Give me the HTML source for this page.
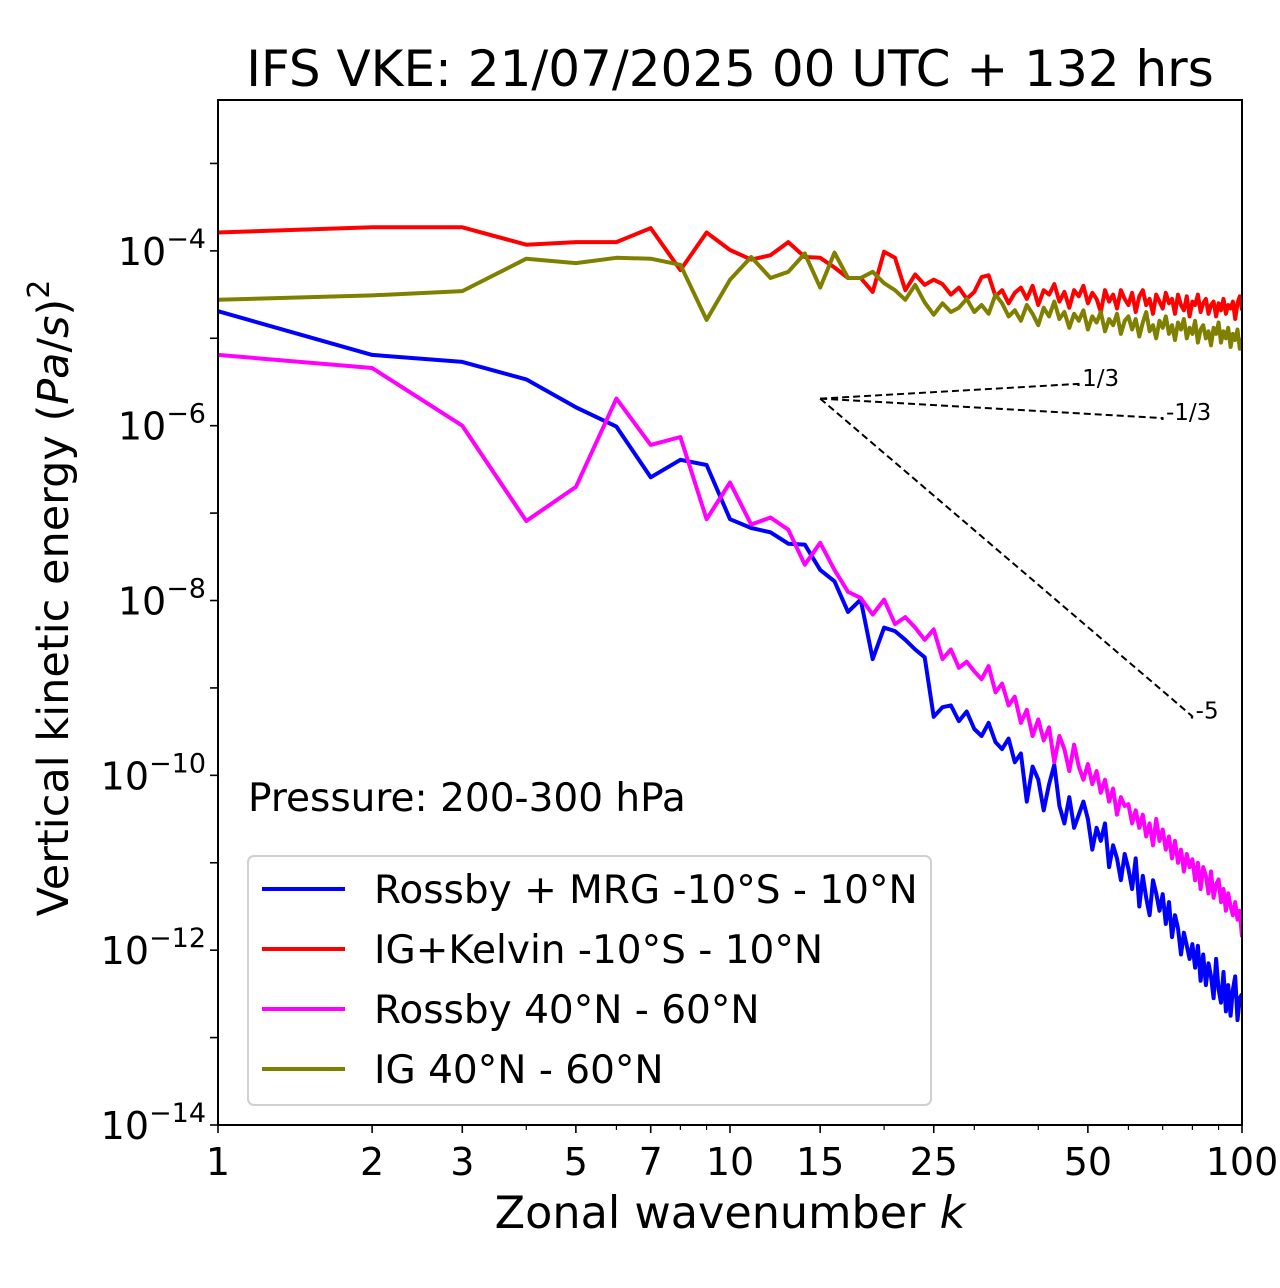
<!DOCTYPE html>
<html><head><meta charset="utf-8"><style>
html,body{margin:0;padding:0;background:#fff;}
svg{display:block;font-family:"DejaVu Sans","Liberation Sans",sans-serif;}
</style></head><body>
<svg id="chart" width="1280" height="1288" viewBox="0 0 1280 1288" xmlns="http://www.w3.org/2000/svg">
<rect width="1280" height="1288" fill="#fff"/>
<text x="730" y="86" font-size="50" text-anchor="middle">IFS VKE: 21/07/2025 00 UTC + 132 hrs</text>
<g id="plot"></g>
</svg>
<script>
const xTickVals = [1,2,3,5,7,10,15,25,50,100];
const xTickLabels = ["1","2","3","5","7","10","15","25","50","100"];
const xMinorVals = [4,6,8,9,20,30,40,60,70,80,90];
const yTickExps = [-14,-13,-12,-11,-10,-9,-8,-7,-6,-5,-4,-3];
const yLabelExps = [-14,-12,-10,-8,-6,-4];
const seriesNames = ["Rossby + MRG -10°S - 10°N","IG+Kelvin -10°S - 10°N","Rossby 40°N - 60°N","IG 40°N - 60°N"];
const seriesColors = ["#0000ff","#ff0000","#ff00ff","#808000"];
// log10 energy values, k = 1..100
const blueLog = [-4.69,-5.19,-5.27,-5.47,-5.79,-6.01,-6.59,-6.39,-6.45,-7.07,-7.17,-7.22,-7.35,-7.36,-7.65,-7.78,-8.13,-7.99,-8.67,-8.31,-8.35,-8.45,-8.56,-8.65,-9.33,-9.22,-9.20,-9.38,-9.27,-9.47,
-9.55,-9.40,-9.62,-9.70,-9.58,-9.85,-9.75,-10.30,-9.90,-10.05,
-10.40,-10.10,-9.88,-10.35,-10.55,-10.25,-10.60,-10.45,-10.30,-10.50,
-10.85,-10.60,-10.75,-10.55,-11.05,-10.80,-10.95,-11.20,-10.90,-11.07,
-11.30,-10.95,-11.50,-11.15,-11.40,-11.60,-11.20,-11.35,-11.55,-11.36,
-11.70,-11.45,-11.85,-11.60,-11.75,-12.05,-11.80,-11.95,-12.10,-11.93,
-12.20,-11.95,-12.35,-12.05,-12.40,-12.15,-12.30,-12.55,-12.10,-12.45,
-12.60,-12.25,-12.70,-12.40,-12.75,-12.45,-12.30,-12.80,-12.55,-12.50];
const redLog = [-3.79,-3.73,-3.73,-3.93,-3.90,-3.90,-3.74,-4.22,-3.79,-3.99,-4.10,-4.05,-3.90,-4.07,-4.08,-4.19,-4.31,-4.31,-4.47,-4.01,-4.08,-4.45,-4.27,-4.39,-4.33,
-4.38,-4.50,-4.42,-4.55,-4.47,-4.30,-4.28,-4.52,-4.45,-4.60,-4.48,-4.42,-4.55,-4.40,-4.62,-4.45,-4.50,-4.38,-4.58,-4.47,-4.65,-4.45,-4.52,-4.40,-4.60,-4.48,-4.55,-4.70,-4.45,-4.58,-4.50,-4.66,-4.45,-4.55,-4.62,-4.48,-4.70,-4.52,-4.45,-4.62,-4.55,-4.72,-4.50,-4.58,-4.66,-4.48,-4.60,-4.55,-4.72,-4.50,-4.62,-4.68,-4.52,-4.75,-4.58,-4.62,-4.50,-4.70,-4.60,-4.55,-4.72,-4.62,-4.58,-4.75,-4.60,-4.68,-4.55,-4.72,-4.62,-4.66,-4.58,-4.78,-4.60,-4.52,-4.68];
const magentaLog = [-5.19,-5.34,-6.00,-7.09,-6.70,-5.69,-6.22,-6.13,-7.07,-6.65,-7.13,-7.05,-7.19,-7.59,-7.34,-7.65,-7.90,-7.97,-8.16,-7.99,-8.27,-8.19,-8.31,-8.45,-8.33,-8.67,-8.56,-8.77,-8.70,-8.81,
-8.90,-8.75,-9.05,-8.95,-9.20,-9.10,-9.40,-9.25,-9.55,-9.36,
-9.60,-9.45,-9.85,-9.55,-9.70,-9.95,-9.65,-9.90,-10.05,-9.87,
-10.10,-9.95,-10.20,-10.05,-10.30,-10.15,-10.45,-10.25,-10.35,-10.33,
-10.55,-10.40,-10.60,-10.45,-10.70,-10.55,-10.80,-10.50,-10.75,-10.62,
-10.85,-10.70,-10.95,-10.75,-11.00,-10.85,-11.10,-10.90,-11.05,-10.96,
-11.20,-11.00,-11.30,-11.05,-11.15,-11.35,-11.10,-11.40,-11.25,-11.19,
-11.45,-11.30,-11.55,-11.35,-11.50,-11.60,-11.45,-11.65,-11.55,-11.85];
const oliveLog = [-4.56,-4.51,-4.46,-4.09,-4.14,-4.08,-4.09,-4.16,-4.79,-4.33,-4.07,-4.31,-4.24,-4.03,-4.42,-4.02,-4.31,-4.31,-4.24,-4.37,-4.45,-4.56,-4.39,-4.59,-4.73,
-4.60,-4.70,-4.65,-4.55,-4.70,-4.62,-4.72,-4.50,-4.60,-4.75,-4.68,-4.80,-4.62,-4.72,-4.85,-4.65,-4.75,-4.58,-4.78,-4.70,-4.88,-4.72,-4.80,-4.68,-4.90,-4.75,-4.82,-4.70,-4.92,-4.78,-4.85,-4.72,-4.95,-4.80,-4.75,-4.90,-4.78,-4.98,-4.82,-4.70,-4.92,-4.85,-5.00,-4.80,-4.88,-4.75,-4.95,-4.85,-5.02,-4.82,-4.90,-4.78,-5.00,-4.88,-4.95,-4.80,-5.05,-4.90,-4.85,-5.00,-4.92,-5.08,-4.88,-4.95,-4.82,-5.05,-4.92,-5.00,-4.88,-5.10,-4.95,-5.02,-4.90,-5.12,-5.00];
const refSlopes = [1/3,-1/3,-5];
const refEnds = [48,70,80];
const refLabels = [".1/3",".-1/3",".-5"];
const refStartK = 15, refStartLog = -5.69;

const L=218,R=1242,T=100,B=1125;
const yTopLog = -4 + (251-T)/87.5;
function xs(k){return L+(R-L)*Math.log10(k)/2;}
function ys(lg){return B-(lg+14)*(B-T)/(14+yTopLog);}
const NS="http://www.w3.org/2000/svg";
const g=document.getElementById('plot');
function mk(tag,attrs,parent){const e=document.createElementNS(NS,tag);for(const a in attrs)e.setAttribute(a,attrs[a]);(parent||g).appendChild(e);return e;}

const cp=mk('clipPath',{id:'clip'});mk('rect',{x:L,y:T,width:R-L,height:B-T},cp);
const series=[blueLog,redLog,magentaLog,oliveLog];
const sg=mk('g',{'clip-path':'url(#clip)'});
series.forEach((arr,i)=>{
  const d=arr.map((v,j)=>(j?'L':'M')+xs(j+1).toFixed(1)+','+ys(v).toFixed(1)).join('');
  const p=mk('path',{d:d,fill:'none',stroke:seriesColors[i],'stroke-width':4,'stroke-linejoin':'round'},sg);
  
  
});
refSlopes.forEach((s,i)=>{
  const k2=refEnds[i], y2=refStartLog+s*Math.log10(k2/refStartK);
  const l=mk('line',{x1:xs(refStartK),y1:ys(refStartLog),x2:xs(k2),y2:ys(y2),stroke:'#000','stroke-width':2,'stroke-dasharray':'7,4'});
  
  
  const t=mk('text',{x:xs(k2)-4,y:ys(y2)+2,'font-size':23});
  t.textContent=refLabels[i];
  
  
});
const fr=mk('rect',{x:L,y:T,width:R-L,height:B-T,fill:'none',stroke:'#000','stroke-width':2});


xTickVals.forEach((v,i)=>{
  mk('line',{x1:xs(v),x2:xs(v),y1:B,y2:B+8,stroke:'#000','stroke-width':1.6});
  const t=mk('text',{x:xs(v),y:B+50,'font-size':38,'text-anchor':'middle'});
  t.textContent=xTickLabels[i];
  
  
});
xMinorVals.forEach(v=>mk('line',{x1:xs(v),x2:xs(v),y1:B,y2:B+5,stroke:'#000','stroke-width':1.2}));
yTickExps.forEach(e=>{const y=ys(e);if(y>=T-1)mk('line',{x1:L-8,x2:L,y1:y,y2:y,stroke:'#000','stroke-width':1.6});});
yLabelExps.forEach(e=>{
  const t=mk('text',{x:L-12,y:ys(e)+14,'font-size':38,'text-anchor':'end'});
  t.innerHTML='10<tspan dy="-17" font-size="27">−'+(-e)+'</tspan>';
  
  
});
const xt=mk('text',{x:730,y:1228,'font-size':44.5,'text-anchor':'middle'});
xt.innerHTML='Zonal wavenumber <tspan font-style="italic">k</tspan>';


const yt=mk('text',{x:0,y:0,'font-size':43,'text-anchor':'middle',transform:'translate(68,598) rotate(-90)'});
yt.innerHTML='Vertical kinetic energy (<tspan font-style="italic">Pa</tspan>/<tspan font-style="italic">s</tspan>)<tspan dy="-19" font-size="30">2</tspan>';


const pt=mk('text',{x:248,y:811,'font-size':39});
pt.textContent='Pressure: 200-300 hPa';


const lg=mk('g',{});


mk('rect',{x:248,y:856,width:683,height:249,rx:6,fill:'#fff','fill-opacity':0.85,stroke:'#d0d0d0','stroke-width':2},lg);
seriesNames.forEach((n,i)=>{
  const y=889+i*60;
  const ln=mk('line',{x1:262,x2:345,y1:y,y2:y,stroke:seriesColors[i],'stroke-width':4},lg);
  
  
  const t=mk('text',{x:374,y:y+14,'font-size':39},lg);
  t.textContent=n;
  
  
});
</script>
</body></html>
